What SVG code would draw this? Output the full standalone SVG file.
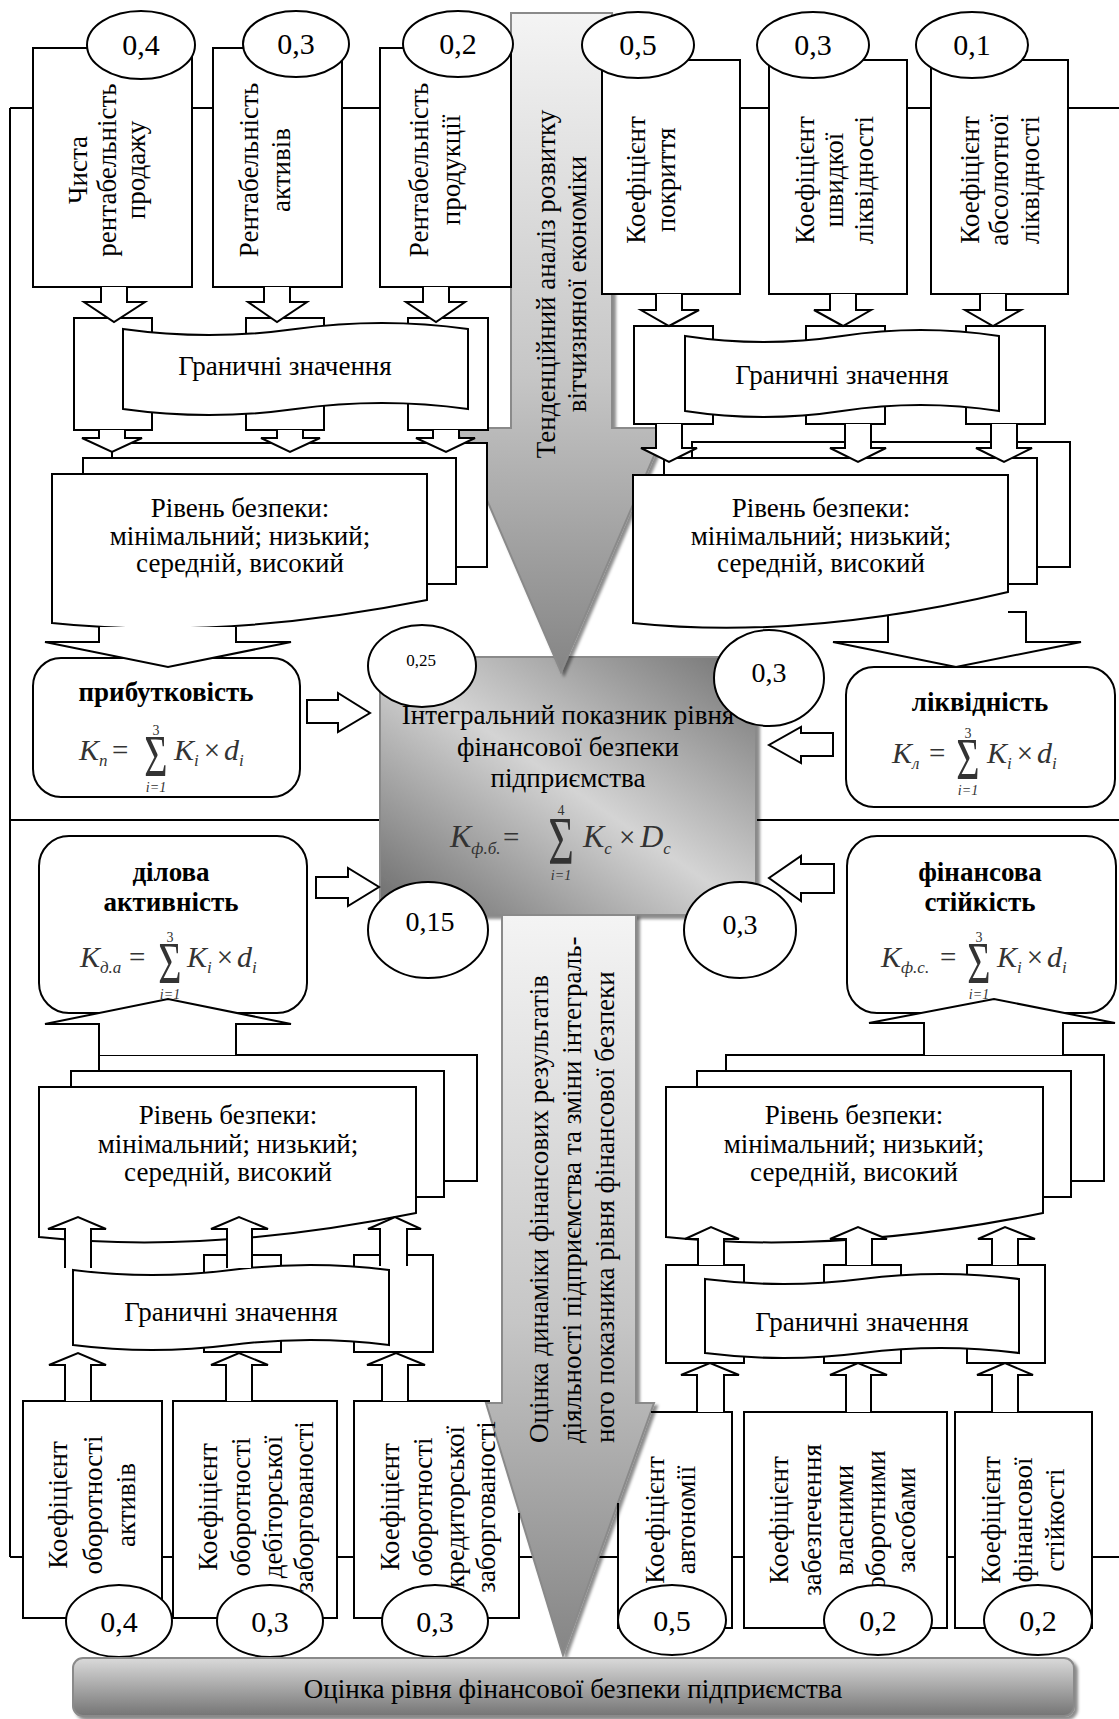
<svg xmlns="http://www.w3.org/2000/svg" width="1119" height="1719" viewBox="0 0 1119 1719">
<defs>
<style>
.s{fill:#fff;stroke:#000;stroke-width:2}
.l{fill:none;stroke:#000;stroke-width:2}
.t{font-family:"Liberation Serif","Times New Roman",serif;font-size:27px;fill:#000}
.m{text-anchor:middle}
.b{font-weight:bold}
.w{font-size:30px}
.fm{font-family:"Liberation Serif","Times New Roman",serif;font-size:29px;fill:#333}
.sg{font-family:"Liberation Serif","Times New Roman",serif;font-size:40px;fill:#333;text-anchor:middle}
.lm{font-family:"Liberation Serif","Times New Roman",serif;font-size:14px;fill:#333;text-anchor:middle}
.i{font-style:italic}
.g{stroke:#8a8a8a;stroke-width:2}
</style>
<linearGradient id="ga" x1="0" y1="0" x2="0" y2="1">
<stop offset="0" stop-color="#f4f4f4"/><stop offset="0.55" stop-color="#c6c6c6"/><stop offset="1" stop-color="#858585"/>
</linearGradient>
<linearGradient id="gc" x1="1" y1="0" x2="0" y2="1">
<stop offset="0" stop-color="#727272"/><stop offset="0.5" stop-color="#d4d4d4"/><stop offset="1" stop-color="#6a6a6a"/>
</linearGradient>
<linearGradient id="gb" x1="0" y1="0" x2="0" y2="1">
<stop offset="0" stop-color="#dadada"/><stop offset="0.5" stop-color="#a8a8a8"/><stop offset="1" stop-color="#747474"/>
</linearGradient>
<filter id="sh" x="-5%" y="-5%" width="115%" height="115%">
<feDropShadow dx="3" dy="3" stdDeviation="1.5" flood-color="#000" flood-opacity="0.45"/>
</filter>
</defs>
<rect width="1119" height="1719" fill="#fff"/>

<g id="frame" class="l">
<path d="M10,108H33M192,108H213M342,108H380M740,108H769M907,108H931M1068,108H1119M10,108V1557M10,820H380M756,820H1119M10,1557H23M162,1557H173M337,1557H354M519,1557H618M732,1557H744M947,1557H955M1092,1557H1119"/>
</g>

<g id="integral">
<rect x="380" y="657" width="376" height="258" fill="url(#gc)" class="g" filter="url(#sh)"/>
<text class="t m" x="568" y="724">Інтегральний показник рівня</text>
<text class="t m" x="568" y="756">фінансової безпеки</text>
<text class="t m" x="568" y="787">підприємства</text>
<text class="fm" y="847"><tspan x="450" class="i" font-size="32">K</tspan><tspan class="i" font-size="17" dy="7">ф.б.</tspan><tspan x="503" dy="-7">=</tspan></text>
<text class="sg" transform="translate(561,863) scale(1,1.55)" style="font-size:44px">Σ</text>
<text class="lm" x="561" y="815">4</text>
<text class="lm i" x="561" y="880">i=1</text>
<text class="fm" y="847"><tspan x="583" class="i" font-size="32">K</tspan><tspan class="i" font-size="17" dy="7">c</tspan><tspan dx="7" dy="-7">×</tspan><tspan dx="5" class="i" font-size="32">D</tspan><tspan class="i" font-size="17" dy="7">c</tspan></text>
</g>

<g id="trend">
<path d="M511,13H612V428H666L561,672L456,428H511Z" fill="url(#ga)" class="g" filter="url(#sh)"/>
<text class="t m" transform="translate(555,284) rotate(-90)">Тенденційний аналіз розвитку</text>
<text class="t m" transform="translate(586,284) rotate(-90)">вітчизняної економіки</text>
</g>

<g id="dynamics">
<path d="M502,915H636V1403H654L563,1655L486,1403H502Z" fill="url(#ga)" class="g" filter="url(#sh)"/>
</g>

<g id="prof-sales"><rect class="s" x="33" y="48" width="159" height="239"/>
<text class="t m" transform="translate(87,170) rotate(-90)">Чиста</text>
<text class="t m" transform="translate(116,170) rotate(-90)">рентабельність</text>
<text class="t m" transform="translate(145,170) rotate(-90)">продажу</text></g>
<g id="prof-assets"><rect class="s" x="213" y="48" width="129" height="239"/>
<text class="t m" transform="translate(258,170) rotate(-90)">Рентабельність</text>
<text class="t m" transform="translate(290,170) rotate(-90)">активів</text></g>
<g id="prof-product"><rect class="s" x="380" y="48" width="131" height="239"/>
<text class="t m" transform="translate(428,170) rotate(-90)">Рентабельність</text>
<text class="t m" transform="translate(460,170) rotate(-90)">продукції</text></g>

<g id="liq-cover"><rect class="s" x="602" y="60" width="138" height="234"/>
<text class="t m" transform="translate(645,180) rotate(-90)">Коефіцієнт</text>
<text class="t m" transform="translate(675,180) rotate(-90)">покриття</text></g>
<g id="liq-quick"><rect class="s" x="769" y="60" width="138" height="234"/>
<text class="t m" transform="translate(814,180) rotate(-90)">Коефіцієнт</text>
<text class="t m" transform="translate(843,180) rotate(-90)">швидкої</text>
<text class="t m" transform="translate(873,180) rotate(-90)">ліквідності</text></g>
<g id="liq-abs"><rect class="s" x="931" y="60" width="137" height="234"/>
<text class="t m" transform="translate(979,180) rotate(-90)">Коефіцієнт</text>
<text class="t m" transform="translate(1008,180) rotate(-90)">абсолютної</text>
<text class="t m" transform="translate(1039,180) rotate(-90)">ліквідності</text></g>

<g id="limits-tl">
<rect class="s" x="74" y="318" width="78" height="112"/>
<rect class="s" x="246" y="318" width="78" height="112"/>
<rect class="s" x="408" y="318" width="80" height="112"/>
<path class="s" d="M123,329Q209,341 295.5,329Q382,317 468,329V409Q382,397 295.5,409Q209,421 123,409Z"/>
<text class="t m" x="285" y="375">Граничні значення</text>
</g>
<g id="limits-tr">
<rect class="s" x="634" y="326" width="79" height="98"/>
<rect class="s" x="806" y="326" width="79" height="98"/>
<rect class="s" x="966" y="326" width="79" height="98"/>
<path class="s" d="M685,336Q763.5,348 842,336Q920.5,324 999,336V411Q920.5,399 842,411Q763.5,423 685,411Z"/>
<text class="t m" x="842" y="384">Граничні значення</text>
</g>

<g id="level-tl">
<rect class="s" x="112" y="443" width="375" height="124"/>
<rect class="s" x="83" y="458" width="373" height="126"/>
<path class="s" d="M52,474H427V600Q221,641 52,623Z"/>
<text class="t m" x="240" y="517">Рівень безпеки:</text>
<text class="t m" x="240" y="545">мінімальний; низький;</text>
<text class="t m" x="240" y="572">середній, високий</text>
</g>
<g id="level-tr">
<rect class="s" x="692" y="442" width="378" height="125"/>
<rect class="s" x="664" y="458" width="373" height="126"/>
<path class="s" d="M633,475H1008V592Q802,641 633,623Z"/>
<text class="t m" x="821" y="517">Рівень безпеки:</text>
<text class="t m" x="821" y="545">мінімальний; низький;</text>
<text class="t m" x="821" y="572">середній, високий</text>
</g>

<g id="profitability">
<rect class="s" x="33" y="658" width="267" height="139" rx="28"/>
<text class="t m b" x="166" y="701">прибутковість</text>
<text class="fm" y="760"><tspan x="79" class="i" font-size="30">K</tspan><tspan class="i" font-size="17" dy="6">п</tspan><tspan x="112" dy="-6">=</tspan></text>
<text class="sg" transform="translate(156,776) scale(1,1.5)">Σ</text>
<text class="lm" x="156" y="735">3</text>
<text class="lm i" x="156" y="792">i=1</text>
<text class="fm" y="760"><tspan x="174" class="i" font-size="30">K</tspan><tspan class="i" font-size="17" dy="6">i</tspan><tspan dx="5" dy="-6">×</tspan><tspan dx="4" class="i" font-size="30">d</tspan><tspan class="i" font-size="17" dy="6">i</tspan></text>
</g>
<g id="liquidity">
<rect class="s" x="846" y="667" width="269" height="140" rx="28"/>
<text class="t m b" x="980" y="711">ліквідність</text>
<text class="fm" y="763"><tspan x="892" class="i" font-size="30">K</tspan><tspan class="i" font-size="17" dy="6">л</tspan><tspan x="929" dy="-6">=</tspan></text>
<text class="sg" transform="translate(968,779) scale(1,1.5)">Σ</text>
<text class="lm" x="968" y="738">3</text>
<text class="lm i" x="968" y="795">i=1</text>
<text class="fm" y="763"><tspan x="987" class="i" font-size="30">K</tspan><tspan class="i" font-size="17" dy="6">i</tspan><tspan dx="5" dy="-6">×</tspan><tspan dx="4" class="i" font-size="30">d</tspan><tspan class="i" font-size="17" dy="6">i</tspan></text>
</g>

<g id="business">
<rect class="s" x="39" y="836" width="268" height="177" rx="30"/>
<text class="t m b" x="171" y="881">ділова</text>
<text class="t m b" x="171" y="911">активність</text>
<text class="fm" y="967"><tspan x="80" class="i" font-size="30">K</tspan><tspan class="i" font-size="17" dy="6">д.а</tspan><tspan x="129" dy="-6">=</tspan></text>
<text class="sg" transform="translate(170,983) scale(1,1.5)">Σ</text>
<text class="lm" x="170" y="942">3</text>
<text class="lm i" x="170" y="999">i=1</text>
<text class="fm" y="967"><tspan x="187" class="i" font-size="30">K</tspan><tspan class="i" font-size="17" dy="6">i</tspan><tspan dx="5" dy="-6">×</tspan><tspan dx="4" class="i" font-size="30">d</tspan><tspan class="i" font-size="17" dy="6">i</tspan></text>
</g>
<g id="stability">
<rect class="s" x="847" y="836" width="269" height="177" rx="30"/>
<text class="t m b" x="980" y="881">фінансова</text>
<text class="t m b" x="980" y="911">стійкість</text>
<text class="fm" y="967"><tspan x="881" class="i" font-size="30">K</tspan><tspan class="i" font-size="17" dy="6">ф.с.</tspan><tspan x="940" dy="-6">=</tspan></text>
<text class="sg" transform="translate(979,983) scale(1,1.5)">Σ</text>
<text class="lm" x="979" y="942">3</text>
<text class="lm i" x="979" y="999">i=1</text>
<text class="fm" y="967"><tspan x="997" class="i" font-size="30">K</tspan><tspan class="i" font-size="17" dy="6">i</tspan><tspan dx="5" dy="-6">×</tspan><tspan dx="4" class="i" font-size="30">d</tspan><tspan class="i" font-size="17" dy="6">i</tspan></text>
</g>

<g id="level-bl">
<rect class="s" x="99" y="1055" width="378" height="126"/>
<rect class="s" x="71" y="1071" width="373" height="126"/>
<path class="s" d="M39,1087H416V1213Q209,1255 39,1237Z"/>
<text class="t m" x="228" y="1124">Рівень безпеки:</text>
<text class="t m" x="228" y="1153">мінімальний; низький;</text>
<text class="t m" x="228" y="1181">середній, високий</text>
</g>
<g id="level-br">
<rect class="s" x="726" y="1055" width="378" height="126"/>
<rect class="s" x="697" y="1071" width="374" height="126"/>
<path class="s" d="M666,1087H1043V1213Q836,1255 666,1237Z"/>
<text class="t m" x="854" y="1124">Рівень безпеки:</text>
<text class="t m" x="854" y="1153">мінімальний; низький;</text>
<text class="t m" x="854" y="1181">середній, високий</text>
</g>

<g id="limits-bl">
<rect class="s" x="204" y="1255" width="77" height="97"/>
<rect class="s" x="354" y="1255" width="79" height="97"/>
<path class="s" d="M73,1270Q152,1280 231,1270Q310,1260 389,1270V1345Q310,1335 231,1345Q152,1355 73,1345Z"/>
<text class="t m" x="231" y="1321">Граничні значення</text>
</g>
<g id="limits-br">
<rect class="s" x="666" y="1265" width="78" height="98"/>
<rect class="s" x="824" y="1265" width="77" height="98"/>
<rect class="s" x="967" y="1265" width="78" height="98"/>
<path class="s" d="M705,1279Q783.5,1289 862,1279Q940.5,1269 1019,1279V1353Q940.5,1343 862,1353Q783.5,1363 705,1353Z"/>
<text class="t m" x="862" y="1331">Граничні значення</text>
</g>

<g id="turn-assets"><rect class="s" x="23" y="1401" width="139" height="217"/>
<text class="t m" transform="translate(67,1505) rotate(-90)">Коефіцієнт</text>
<text class="t m" transform="translate(102,1505) rotate(-90)">оборотності</text>
<text class="t m" transform="translate(135,1505) rotate(-90)">активів</text></g>
<g id="turn-receivables"><rect class="s" x="173" y="1401" width="164" height="217"/>
<text class="t m" transform="translate(217,1507) rotate(-90)">Коефіцієнт</text>
<text class="t m" transform="translate(250,1507) rotate(-90)">оборотності</text>
<text class="t m" transform="translate(282,1507) rotate(-90)">дебіторської</text>
<text class="t m" transform="translate(313,1507) rotate(-90)">заборгованості</text></g>
<g id="turn-payables"><path class="l" d="M490,1401H354V1618H519V1513"/>
<text class="t m" transform="translate(399,1507) rotate(-90)">Коефіцієнт</text>
<text class="t m" transform="translate(432,1507) rotate(-90)">оборотності</text>
<text class="t m" transform="translate(464,1507) rotate(-90)">кредиторської</text>
<text class="t m" transform="translate(495,1507) rotate(-90)">заборгованості</text></g>

<g id="autonomy"><path class="l" d="M651,1412H732V1628H618V1503"/>
<text class="t m" transform="translate(664,1520) rotate(-90)">Коефіцієнт</text>
<text class="t m" transform="translate(695,1520) rotate(-90)">автономії</text></g>
<g id="own-funds"><rect class="s" x="744" y="1412" width="203" height="216"/>
<text class="t m" transform="translate(788,1520) rotate(-90)">Коефіцієнт</text>
<text class="t m" transform="translate(821,1520) rotate(-90)">забезпечення</text>
<text class="t m" transform="translate(853,1520) rotate(-90)">власними</text>
<text class="t m" transform="translate(885,1520) rotate(-90)">оборотними</text>
<text class="t m" transform="translate(915,1520) rotate(-90)">засобами</text></g>
<g id="fin-stability"><rect class="s" x="955" y="1412" width="137" height="216"/>
<text class="t m" transform="translate(1000,1520) rotate(-90)">Коефіцієнт</text>
<text class="t m" transform="translate(1032,1520) rotate(-90)">фінансової</text>
<text class="t m" transform="translate(1064,1520) rotate(-90)">стійкості</text></g>

<g id="dynamics-text">
<text class="t" transform="translate(548,1443) rotate(-90)">Оцінка динаміки фінансових результатів</text>
<text class="t" transform="translate(581,1443) rotate(-90)">діяльності підприємства та зміни інтеграль-</text>
<text class="t" transform="translate(614,1443) rotate(-90)">ного показника рівня фінансової безпеки</text>
</g>

<g id="connectors" class="s">
<path d="M101,287V302H84L114,322L145,302H127V287"/>
<path d="M264,287V302H248L277,322L307,302H290V287"/>
<path d="M423,287V302H406L436,322L465,302H449V287"/>
<path d="M99,430V438H82L112,452L142,438H125V430"/>
<path d="M277,430V438H261L290,452L320,438H303V430"/>
<path d="M433,430V438H416L446,452L475,438H459V430"/>
<path d="M656,294V310H641L669,326L699,310H682V294"/>
<path d="M830,294V310H814L843,326L871,310H856V294"/>
<path d="M980,294V310H965L993,326L1021,310H1006V294"/>
<path d="M656,424V448H641L669,462L697,448H682V424"/>
<path d="M845,424V448H830L858,462L886,448H871V424"/>
<path d="M991,424V448H976L1004,462L1032,448H1017V424"/>
<path d="M99,627V642H45L168,667L291,642H236V627"/>
<path d="M888,616V642H833L956,667L1081,642H1026V612H1008"/>
<path d="M307,700H338V693L370,713L338,732V723H307Z"/>
<path d="M833,733H801V727L769,745L801,763V756H833Z"/>
<path d="M316,877H348V868L379,887L348,906V898H316Z"/>
<path d="M834,864H801V856L769,878L801,901V893H834Z"/>
<path d="M99,1055V1024H45L168,999L291,1024H236V1055"/>
<path d="M924,1055V1023H869L994,999L1115,1023H1063V1055"/>
<path d="M65,1268V1229H48L78,1217L106,1229H91V1268"/>
<path d="M227,1268V1229H211L239,1217L268,1229H252V1268"/>
<path d="M380,1266V1229H368L395,1217L421,1229H407V1266"/>
<path d="M698,1265V1239H685L711,1227L739,1239H724V1265"/>
<path d="M846,1265V1239H830L858,1227L887,1239H872V1265"/>
<path d="M992,1265V1239H978L1005,1227L1035,1239H1018V1265"/>
<path d="M65,1401V1365H49L78,1353L106,1365H91V1401"/>
<path d="M226,1401V1365H211L239,1353L268,1365H252V1401"/>
<path d="M382,1401V1365H367L396,1353L425,1365H408V1401"/>
<path d="M697,1412V1375H681L710,1363L739,1375H724V1412"/>
<path d="M846,1412V1375H830L858,1363L887,1375H871V1412"/>
<path d="M992,1412V1375H977L1005,1363L1033,1375H1018V1412"/>
</g>

<g id="weights" class="s">
<ellipse cx="141" cy="45" rx="54" ry="34"/>
<ellipse cx="296" cy="44" rx="53" ry="33"/>
<ellipse cx="458" cy="44" rx="55" ry="33"/>
<ellipse cx="638" cy="45" rx="56" ry="33"/>
<ellipse cx="813" cy="45" rx="56" ry="33"/>
<ellipse cx="972" cy="45" rx="56" ry="33"/>
<ellipse cx="422" cy="666" rx="54" ry="41"/>
<ellipse cx="769" cy="678" rx="55" ry="48"/>
<ellipse cx="428" cy="930" rx="60" ry="48"/>
<ellipse cx="740" cy="930" rx="56" ry="48"/>
<ellipse cx="119" cy="1621" rx="53" ry="36"/>
<ellipse cx="270" cy="1621" rx="53" ry="36"/>
<ellipse cx="435" cy="1621" rx="53" ry="36"/>
<ellipse cx="672" cy="1620" rx="54" ry="35"/>
<ellipse cx="878" cy="1620" rx="54" ry="35"/>
<ellipse cx="1038" cy="1620" rx="54" ry="35"/>
</g>
<g id="weight-labels">
<text class="t m w" x="141" y="55">0,4</text>
<text class="t m w" x="296" y="54">0,3</text>
<text class="t m w" x="458" y="54">0,2</text>
<text class="t m w" x="638" y="55">0,5</text>
<text class="t m w" x="813" y="55">0,3</text>
<text class="t m w" x="972" y="55">0,1</text>
<text class="t m" x="421" y="666" style="font-size:17px">0,25</text>
<text class="t m" x="769" y="682" style="font-size:28px">0,3</text>
<text class="t m" x="430" y="931" style="font-size:28px">0,15</text>
<text class="t m" x="740" y="934" style="font-size:28px">0,3</text>
<text class="t m w" x="119" y="1632">0,4</text>
<text class="t m w" x="270" y="1632">0,3</text>
<text class="t m w" x="435" y="1632">0,3</text>
<text class="t m w" x="672" y="1631">0,5</text>
<text class="t m w" x="878" y="1631">0,2</text>
<text class="t m w" x="1038" y="1631">0,2</text>
</g>

<g id="result">
<rect x="73" y="1658" width="1001" height="58" rx="10" fill="url(#gb)" class="g" filter="url(#sh)"/>
<text class="t m" x="573" y="1698">Оцінка рівня фінансової безпеки підприємства</text>
</g>
</svg>
